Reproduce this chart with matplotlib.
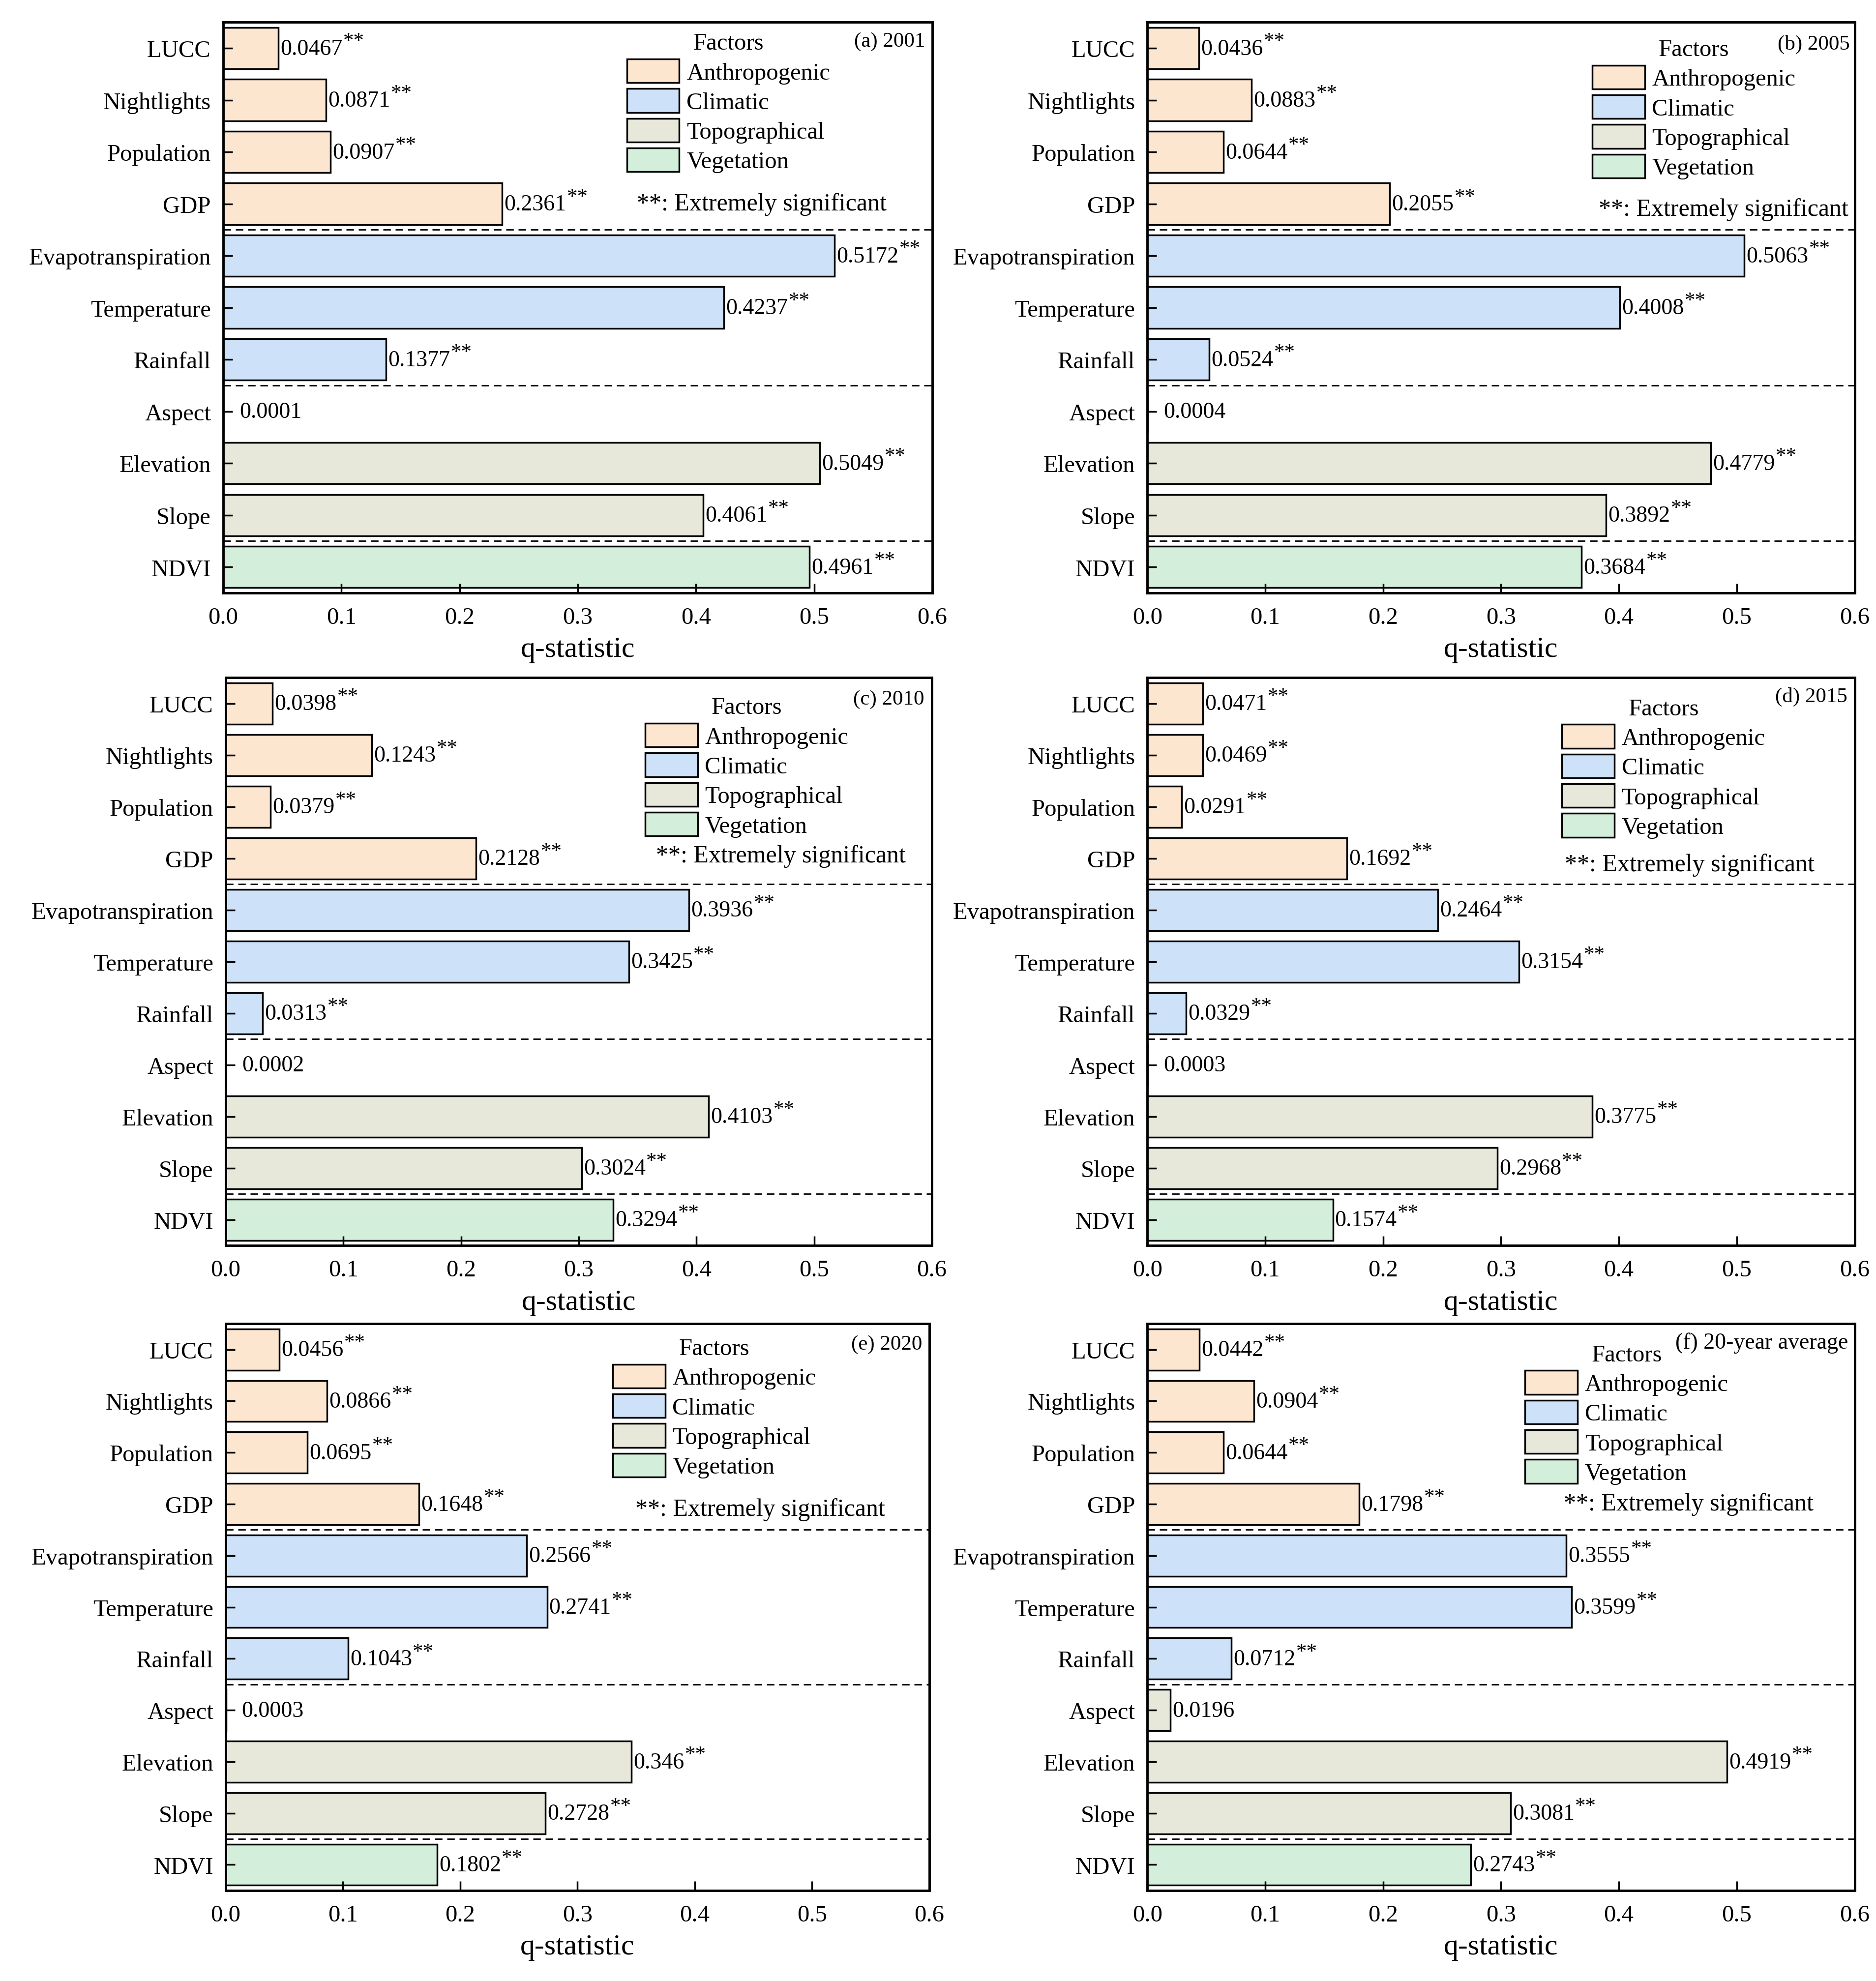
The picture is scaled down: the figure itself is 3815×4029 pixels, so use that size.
import matplotlib
matplotlib.use("Agg")
import matplotlib.pyplot as plt
from matplotlib.patches import Patch

plt.rcParams['font.family'] = ['Liberation Serif', 'DejaVu Serif']

# factores de cima para baixo
factors = ['LUCC', 'Nightlights', 'Population', 'GDP', 'Evapotranspiration',
           'Temperature', 'Rainfall', 'Aspect', 'Elevation', 'Slope', 'NDVI']
groups = (['Anthropogenic'] * 4 + ['Climatic'] * 3 +
          ['Topographical'] * 3 + ['Vegetation'])
group_names = ['Anthropogenic', 'Climatic', 'Topographical', 'Vegetation']
group_colors = {'Anthropogenic': '#fde6d0', 'Climatic': '#cde1f8',
                'Topographical': '#e7e7da', 'Vegetation': '#d3eedb'}
not_significant = ['Aspect']

q_2001 = [0.0467, 0.0871, 0.0907, 0.2361, 0.5172, 0.4237, 0.1377, 0.0001, 0.5049, 0.4061, 0.4961]
q_2005 = [0.0436, 0.0883, 0.0644, 0.2055, 0.5063, 0.4008, 0.0524, 0.0004, 0.4779, 0.3892, 0.3684]
q_2010 = [0.0398, 0.1243, 0.0379, 0.2128, 0.3936, 0.3425, 0.0313, 0.0002, 0.4103, 0.3024, 0.3294]
q_2015 = [0.0471, 0.0469, 0.0291, 0.1692, 0.2464, 0.3154, 0.0329, 0.0003, 0.3775, 0.2968, 0.1574]
q_2020 = [0.0456, 0.0866, 0.0695, 0.1648, 0.2566, 0.2741, 0.1043, 0.0003, 0.346, 0.2728, 0.1802]
q_avg = [0.0442, 0.0904, 0.0644, 0.1798, 0.3555, 0.3599, 0.0712, 0.0196, 0.4919, 0.3081, 0.2743]

panel_titles = ['(a) 2001', '(b) 2005', '(c) 2010', '(d) 2015', '(e) 2020', '(f) 20-year average']
panel_values = [q_2001, q_2005, q_2010, q_2015, q_2020, q_avg]

# layout de cada painel
axes_pos = [[0.119, 0.7005, 0.378, 0.288], [0.6116, 0.7005, 0.377, 0.288],
            [0.1203, 0.3712, 0.3764, 0.2866], [0.6116, 0.3712, 0.377, 0.2866],
            [0.1203, 0.0457, 0.375, 0.286], [0.6116, 0.0457, 0.377, 0.286]]
legend_anchor = [(0.569, 0.982), (0.629, 0.971), (0.594, 0.966),
                 (0.586, 0.964), (0.550, 0.975), (0.534, 0.964)]
note_pos = [(0.759, 3.0), (0.815, 3.1), (0.786, 2.95),
            (0.767, 3.12), (0.760, 3.1), (0.765, 3.0)]
title_pos = [(0.99, 0.967), (0.993, 0.962), (0.989, 0.962),
             (0.99, 0.967), (0.99, 0.964), (0.991, 0.967)]
title_size = [31, 31, 31, 31, 31, 33]

fig = plt.figure(figsize=(38.15, 40.30), dpi=100)

for i, vals in enumerate(panel_values):
    ax = fig.add_axes(axes_pos[i])
    y = list(range(len(factors)))
    colors = [group_colors[g] for g in groups]
    ax.barh(y, vals, height=0.8, color=colors, edgecolor='black', linewidth=2.5)

    # linhas tracejadas separando os grupos
    for yl in [3.5, 6.5, 9.5]:
        ax.axhline(yl, color='black', linewidth=2, linestyle=(0, (5.5, 3.5)))

    # rótulos de valor + asteriscos
    for yy, v, f in zip(y, vals, factors):
        t = ax.annotate(str(v), xy=(max(v, 0.012), yy), xytext=(3, -1),
                        textcoords='offset points', ha='left', va='center',
                        fontsize=33)
        if f not in not_significant:
            ax.annotate('**', xy=(1, 0.62), xycoords=t, xytext=(1, 0),
                        textcoords='offset points', ha='left', va='baseline',
                        fontsize=31)

    ax.set_xlim(0, 0.6)
    ax.set_ylim(10.5, -0.5)
    ax.set_yticks(y)
    ax.set_yticklabels(factors)
    ax.set_xticks([0.0, 0.1, 0.2, 0.3, 0.4, 0.5, 0.6])
    ax.set_xticklabels(['0.0', '0.1', '0.2', '0.3', '0.4', '0.5', '0.6'])
    ax.tick_params(axis='both', direction='in', length=14, width=2.5, labelsize=35)
    ax.tick_params(axis='x', pad=20)
    ax.tick_params(axis='y', pad=18)
    ax.set_xlabel('q-statistic', fontsize=43, labelpad=12)
    for sp in ax.spines.values():
        sp.set_linewidth(3.5)

    handles = [Patch(facecolor=group_colors[g], edgecolor='black', linewidth=2.5, label=g)
               for g in group_names]
    ax.legend(handles=handles, title='Factors', loc='upper left',
              bbox_to_anchor=legend_anchor[i], frameon=False, fontsize=35,
              title_fontsize=35, handlelength=2.2, handleheight=1.15,
              handletextpad=0.3, labelspacing=0.2, borderpad=0, borderaxespad=0)

    nx, ny = note_pos[i]
    ax.text(nx, ny, '**: Extremely significant', transform=ax.get_yaxis_transform(),
            ha='center', va='center', fontsize=36)

    tx, ty = title_pos[i]
    ax.text(tx, ty, panel_titles[i], transform=ax.transAxes, ha='right',
            va='center', fontsize=title_size[i])

fig.savefig('out.png', dpi=100)
